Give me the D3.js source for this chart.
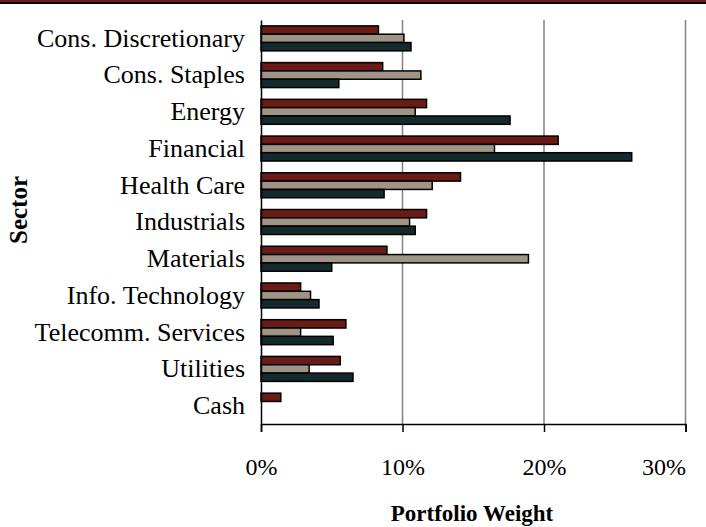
<!DOCTYPE html>
<html>
<head>
<meta charset="utf-8">
<script src="https://cdn.jsdelivr.net/npm/d3@7"></script>
<style>
  body { margin: 0; background: #fff; }
  svg { display: block; font-family: "Liberation Serif", "Times New Roman", serif; }
</style>
</head>
<body>
<div id="chart"></div>
<script>
const sectors = ["Cons. Discretionary", "Cons. Staples", "Energy", "Financial", "Health Care",
  "Industrials", "Materials", "Info. Technology", "Telecomm. Services", "Utilities", "Cash"];
const seriesNames = ["Series 1", "Series 2", "Series 3"];
const series1 = [8.3, 8.6, 11.7, 21.0, 14.1, 11.7, 8.9, 2.8, 6.0, 5.6, 1.4];
const series2 = [10.1, 11.3, 10.9, 16.5, 12.1, 10.5, 18.9, 3.5, 2.8, 3.4, 0];
const series3 = [10.6, 5.5, 17.6, 26.2, 8.7, 10.9, 5.0, 4.1, 5.1, 6.5, 0];
const xTicks = [0, 10, 20, 30];
const colors = ["#6b1b15", "#a09487", "#142a2c"];

const width = 706, height = 527;
const margin = { top: 20, right: 20, bottom: 103, left: 261 };

const svg = d3.select("#chart").append("svg")
  .attr("width", width)
  .attr("height", height);

// top rule
svg.append("rect").attr("x", 0).attr("y", 0).attr("width", width).attr("height", 2).attr("fill", "#6b1b15");
svg.append("rect").attr("x", 0).attr("y", 2).attr("width", width).attr("height", 2).attr("fill", "#000");

const x = d3.scaleLinear()
  .domain([0, 30])
  .range([margin.left, 685.5]);

const y = d3.scaleBand()
  .domain(sectors)
  .range([margin.top, height - margin.bottom])
  .paddingInner(0.32)
  .paddingOuter(0.16);

const ySub = d3.scaleBand()
  .domain(seriesNames)
  .range([0, y.bandwidth()]);

const data = sectors.map((s, i) => ({
  sector: s,
  values: [series1[i], series2[i], series3[i]]
}));

// gridlines
svg.append("g")
  .selectAll("line")
  .data(xTicks.slice(1))
  .join("line")
  .attr("x1", d => x(d)).attr("x2", d => x(d))
  .attr("y1", margin.top).attr("y2", height - margin.bottom)
  .attr("stroke", "#808080")
  .attr("stroke-width", 1.5);

// bars
const groups = svg.append("g")
  .selectAll("g")
  .data(data)
  .join("g")
  .attr("transform", d => `translate(0,${y(d.sector)})`);

groups.selectAll("rect")
  .data(d => d.values.map((v, j) => ({ name: seriesNames[j], value: v, color: colors[j] })).filter(d => d.value > 0))
  .join("rect")
  .attr("x", x(0))
  .attr("y", d => ySub(d.name))
  .attr("width", d => x(d.value) - x(0))
  .attr("height", ySub.bandwidth())
  .attr("fill", d => d.color)
  .attr("stroke", "#000")
  .attr("stroke-width", 1.5);

// x axis
const xAxis = svg.append("g")
  .attr("transform", `translate(0,${height - margin.bottom})`)
  .call(d3.axisBottom(x).tickValues(xTicks).tickFormat(d => d + "%").tickSize(8).tickPadding(26));
xAxis.select(".domain").attr("stroke", "#000").attr("stroke-width", 1.5);
xAxis.selectAll(".tick line").attr("stroke", "#000").attr("stroke-width", 1.5);
xAxis.selectAll(".tick text")
  .attr("font-size", 24)
  .attr("font-family", "Liberation Serif, serif")
  .attr("fill", "#000")
  .attr("text-anchor", d => d === 30 ? "end" : "middle")
  .attr("dx", d => d === 30 ? 0 : 0);

// y axis
const yAxis = svg.append("g")
  .attr("transform", `translate(${margin.left},0)`)
  .call(d3.axisLeft(y).tickSize(0).tickPadding(16));
yAxis.select(".domain").attr("stroke", "#000").attr("stroke-width", 1.5);
yAxis.selectAll(".tick text")
  .attr("font-size", 26)
  .attr("font-family", "Liberation Serif, serif")
  .attr("fill", "#000");

// axis titles
svg.append("text")
  .attr("x", 472)
  .attr("y", 521)
  .attr("text-anchor", "middle")
  .attr("font-size", 23)
  .attr("font-weight", "bold")
  .text("Portfolio Weight");

svg.append("text")
  .attr("transform", `translate(27,210) rotate(-90)`)
  .attr("text-anchor", "middle")
  .attr("font-size", 25)
  .attr("font-weight", "bold")
  .text("Sector");
</script>
</body>
</html>
